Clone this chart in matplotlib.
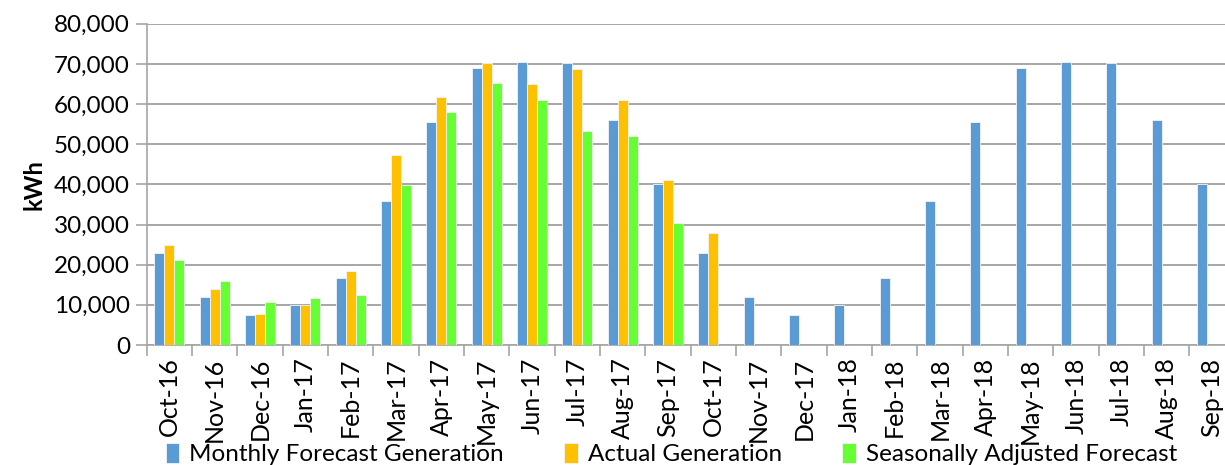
import numpy as np
import matplotlib
matplotlib.use('Agg')
import matplotlib.pyplot as plt
from matplotlib.ticker import FuncFormatter, FixedLocator

plt.rcParams['font.family'] = ['Lato', 'DejaVu Sans']

months = ['Oct-16', 'Nov-16', 'Dec-16', 'Jan-17', 'Feb-17', 'Mar-17', 'Apr-17', 'May-17',
          'Jun-17', 'Jul-17', 'Aug-17', 'Sep-17', 'Oct-17', 'Nov-17', 'Dec-17', 'Jan-18',
          'Feb-18', 'Mar-18', 'Apr-18', 'May-18', 'Jun-18', 'Jul-18', 'Aug-18', 'Sep-18']

# monthly forecast repeats each year
forecast = [22800, 11900, 7400, 10000, 16800, 35800, 55500, 69000, 70500, 70100, 56100, 40200,
            22800, 11900, 7400, 10000, 16800, 35800, 55500, 69000, 70500, 70100, 56100, 40200]
actual = [25000, 14000, 7700, 10000, 18400, 47400, 61800, 70100, 64900, 68600, 61100, 41100,
          27800]
seasonal = [21200, 15900, 10700, 11700, 12400, 39900, 58000, 65200, 61000, 53400, 52000, 30500]

series = [
    ('Monthly Forecast Generation', forecast, '#5B9BD5'),
    ('Actual Generation', actual, '#FFC000'),
    ('Seasonally Adjusted Forecast', seasonal, '#66FF33'),
]

fig = plt.figure(figsize=(12.25, 4.65), dpi=100)
ax = fig.add_axes([146.7 / 1225, 120 / 465, 1088 / 1225, 321.3 / 465])

x = np.arange(len(months))
w = 0.22
for i, (name, vals, col) in enumerate(series):
    xs = x[:len(vals)] + (i - 1) * w
    ax.bar(xs, vals, width=w, color=col, edgecolor='#f4f4f4', linewidth=0.6,
           label=name, zorder=3)

ax.set_xlim(-0.5, len(months) - 0.5)
ax.set_ylim(0, 80000)
ax.set_yticks(np.arange(0, 80001, 10000))
ax.yaxis.set_major_formatter(FuncFormatter(lambda v, p: f'{int(v):,}'))
ax.grid(axis='y', color='#a6a6a6', linewidth=1.4, zorder=0)

ax.set_xticks(x)
ax.set_xticklabels(months, rotation=90)
ax.xaxis.set_minor_locator(FixedLocator(np.arange(-0.5, len(months), 1)))
ax.tick_params(axis='x', which='major', length=0, pad=9, labelsize=18)
ax.tick_params(axis='x', which='minor', length=8, color='#a6a6a6', width=1.2)
ax.tick_params(axis='y', length=8, color='#a6a6a6', width=1.2, labelsize=17.5, pad=4)

for s in ['top', 'right']:
    ax.spines[s].set_visible(False)
for s in ['left', 'bottom']:
    ax.spines[s].set_color('#a6a6a6')
    ax.spines[s].set_linewidth(1.2)

ax.set_ylabel('kWh', fontsize=17, fontweight='bold', labelpad=6)

# legend sits right at the bottom edge, like the original
fig.legend(loc='center left', bbox_to_anchor=(166 / 1225, 11 / 465), ncol=3, frameon=False,
           fontsize=17.5, handlelength=0.55, handleheight=0.9, handletextpad=0.4,
           columnspacing=2.5, borderpad=0, borderaxespad=0)

fig.savefig('out.png', dpi=100)
